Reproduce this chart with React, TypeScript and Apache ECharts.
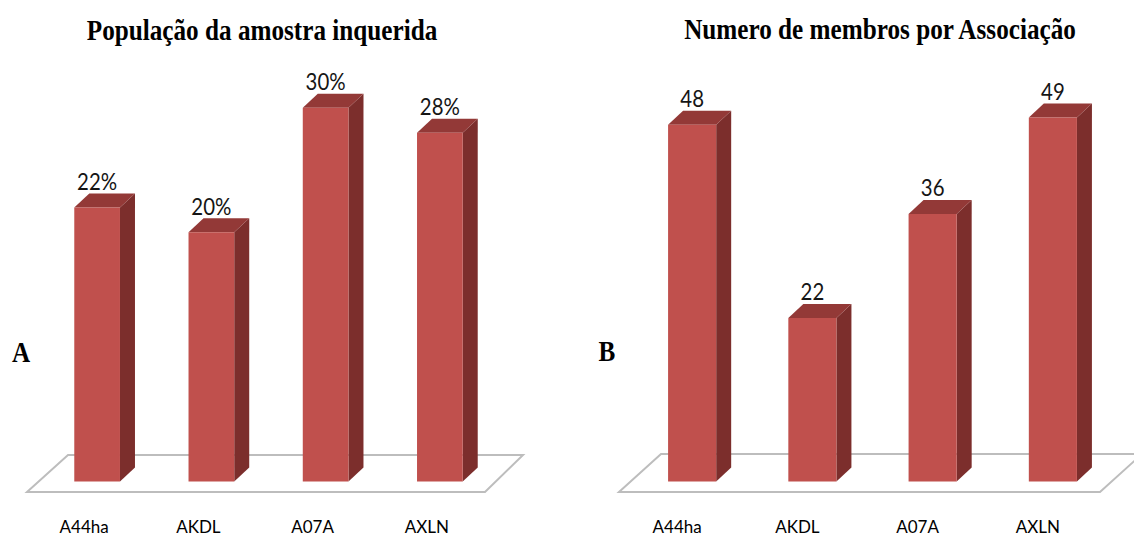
import React, { useEffect, useRef } from "react";
import * as echarts from "echarts";

const categories = ["A44ha", "AKDL", "A07A", "AXLN"];
const populationPct = [22, 20, 30, 28];
const memberCounts = [48, 22, 36, 49];
const titleA = "População da amostra inquerida";
const titleB = "Numero de membros por Associação";

const FRONT = "#C0504D";
const TOP = "#933937";
const SIDE = "#7C2E2C";
const DX = 15;
const DY = 14;

function makeRender(suffix: string) {
  return (params: any, api: any) => {
    const idx = api.value(0);
    const val = api.value(1);
    const p = api.coord([idx, val]);
    const b = api.coord([idx, 0]);
    const w = api.size([1, 0])[0] * 0.4;
    const x0 = p[0] - w / 2;
    const x1 = p[0] + w / 2;
    const top = p[1];
    const bottom = b[1];
    return {
      type: "group",
      children: [
        {
          type: "polygon",
          shape: { points: [[x1, top], [x1 + DX, top - DY], [x1 + DX, bottom - DY], [x1, bottom]] },
          style: { fill: SIDE },
        },
        {
          type: "polygon",
          shape: { points: [[x0, top], [x0 + DX, top - DY], [x1 + DX, top - DY], [x1, top]] },
          style: { fill: TOP },
        },
        {
          type: "rect",
          shape: { x: x0, y: top, width: w, height: bottom - top },
          style: { fill: FRONT },
        },
        {
          type: "text",
          x: p[0],
          y: top - 27,
          scaleX: 0.85,
          style: {
            text: String(val) + suffix,
            font: "24px Lato",
            fill: "#151515",
            align: "center",
            verticalAlign: "middle",
            textAlign: "center",
            textVerticalAlign: "middle",
          },
        },
      ],
    };
  };
}

function titleText(text: string, x: number, y: number, size: number) {
  return {
    type: "text",
    x,
    y,
    scaleX: 0.84,
    z: 10,
    style: {
      text,
      font: `bold ${size}px "Liberation Serif"`,
      fill: "#000",
      align: "center",
      verticalAlign: "middle",
      textAlign: "center",
      textVerticalAlign: "middle",
    },
  };
}

export default function App() {
  const ref = useRef<HTMLDivElement>(null);
  useEffect(() => {
    if (!ref.current) return;
    const chart = echarts.init(ref.current, null, { renderer: "svg" });
    const xAxisBase = (gridIndex: number, pad: number) => ({
      type: "category",
      gridIndex,
      data: categories,
      axisLine: { show: false },
      axisTick: { show: false },
      splitLine: { show: false },
      axisLabel: {
        margin: 45,
        verticalAlign: "middle",
        fontFamily: "Lato",
        fontSize: 17,
        color: "#000",
        padding: [0, pad, 0, 0],
      },
    });
    const yAxisBase = (gridIndex: number, max: number) => ({
      type: "value",
      gridIndex,
      min: 0,
      max,
      show: false,
      splitLine: { show: false },
    });
    chart.setOption({
      animation: false,
      grid: [
        { left: 40, width: 457, top: 107.8, bottom: 58.5 },
        { left: 632, width: 481, top: 110, bottom: 58.5 },
      ],
      xAxis: [xAxisBase(0, 26), xAxisBase(1, 30)],
      yAxis: [yAxisBase(0, 30), yAxisBase(1, 50)],
      graphic: [
        {
          type: "polygon",
          z: 0,
          shape: { points: [[27, 492], [485, 492], [523, 455], [68, 455]] },
          style: { fill: "#fff", stroke: "#BDBDBD", lineWidth: 2 },
        },
        {
          type: "polygon",
          z: 0,
          shape: { points: [[619, 492], [1100, 492], [1142, 454], [661, 454]] },
          style: { fill: "#fff", stroke: "#BDBDBD", lineWidth: 2 },
        },
        titleText(titleA, 262, 30, 30),
        titleText(titleB, 880, 29, 30),
        titleText("A", 21, 352, 30),
        titleText("B", 607, 351, 30),
      ],
      series: [
        {
          type: "custom",
          xAxisIndex: 0,
          yAxisIndex: 0,
          z: 5,
          clip: false,
          renderItem: makeRender("%"),
          data: populationPct.map((v, i) => [i, v]),
        },
        {
          type: "custom",
          xAxisIndex: 1,
          yAxisIndex: 1,
          z: 5,
          clip: false,
          renderItem: makeRender(""),
          data: memberCounts.map((v, i) => [i, v]),
        },
      ],
    });
    return () => chart.dispose();
  }, []);
  return (
    <div
      ref={ref}
      style={{ position: "fixed", left: 0, top: 0, width: 1134, height: 540, background: "#fff" }}
    />
  );
}
